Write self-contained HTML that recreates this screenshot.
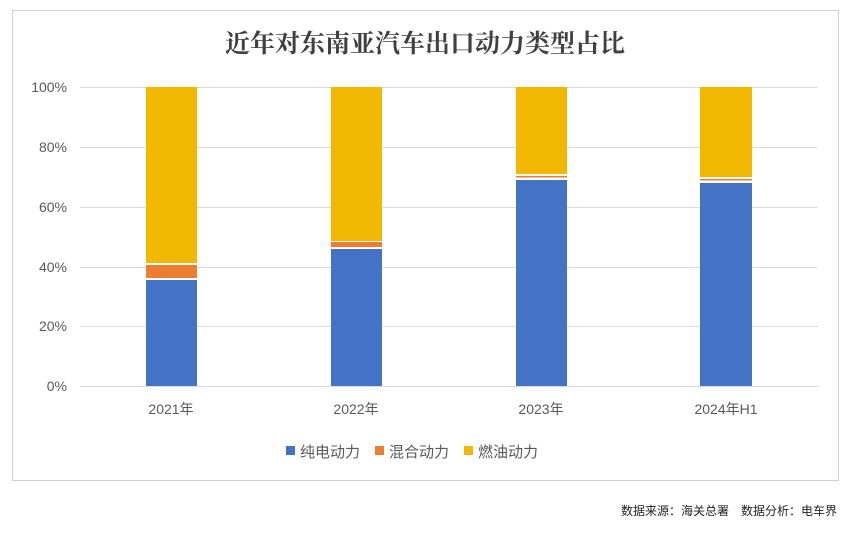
<!DOCTYPE html>
<html><head><meta charset="utf-8"><style>
body{margin:0;background:#fff;width:845px;height:533px;overflow:hidden}
svg{display:block}
text{font-family:"Liberation Sans","Noto Sans CJK SC",sans-serif}
</style></head><body>
<svg width="845" height="533" viewBox="0 0 845 533">
<rect x="12.5" y="10.5" width="826" height="470" fill="#fff" stroke="#d0d0d0"/>
<text x="425" y="52" text-anchor="middle" font-size="25" font-weight="bold" fill="#404040" style="font-family:'Noto Serif CJK SC',serif">近年对东南亚汽车出口动力类型占比</text>
<g stroke="#d9d9d9" stroke-width="1">
<line x1="80" y1="87.5" x2="818" y2="87.5"/>
<line x1="80" y1="147.5" x2="818" y2="147.5"/>
<line x1="80" y1="207.5" x2="818" y2="207.5"/>
<line x1="80" y1="267.5" x2="818" y2="267.5"/>
<line x1="80" y1="326.5" x2="818" y2="326.5"/>
<line x1="80" y1="386.5" x2="818" y2="386.5"/>
</g>
<g font-size="14" fill="#595959" text-anchor="end">
<text x="67" y="92">100%</text><text x="67" y="152">80%</text><text x="67" y="212">60%</text>
<text x="67" y="272">40%</text><text x="67" y="331">20%</text><text x="67" y="391">0%</text>
</g>
<rect x="146" y="87" width="51" height="176" fill="#f2b700"/>
<rect x="146" y="265" width="51" height="13" fill="#ed7d31"/>
<rect x="146" y="280" width="51" height="106" fill="#4472c4"/>
<rect x="331" y="87" width="51" height="154" fill="#f2b700"/>
<rect x="331" y="242" width="51" height="5" fill="#ed7d31"/>
<rect x="331" y="249" width="51" height="137" fill="#4472c4"/>
<rect x="516" y="87" width="51" height="87" fill="#f2b700"/>
<rect x="516" y="176" width="51" height="1.5" fill="#ed7d31"/>
<rect x="516" y="180" width="51" height="206" fill="#4472c4"/>
<rect x="700" y="87" width="52" height="90" fill="#f2b700"/>
<rect x="700" y="179" width="52" height="1.5" fill="#ed7d31"/>
<rect x="700" y="183" width="52" height="203" fill="#4472c4"/>
<g font-size="14" fill="#595959" text-anchor="middle">
<text x="171" y="414">2021年</text><text x="356" y="414">2022年</text>
<text x="541" y="414">2023年</text><text x="726" y="414">2024年H1</text>
</g>
<g font-size="15" fill="#595959">
<rect x="286" y="446" width="9" height="9" fill="#4472c4"/><text x="300" y="457">纯电动力</text>
<rect x="375" y="446" width="9" height="9" fill="#ed7d31"/><text x="389" y="457">混合动力</text>
<rect x="464" y="446" width="9" height="9" fill="#f2b700"/><text x="478" y="457">燃油动力</text>
</g>
<text x="837" y="515" text-anchor="end" font-size="12" fill="#222">数据来源：海关总署　数据分析：电车界</text>
</svg>
</body></html>
